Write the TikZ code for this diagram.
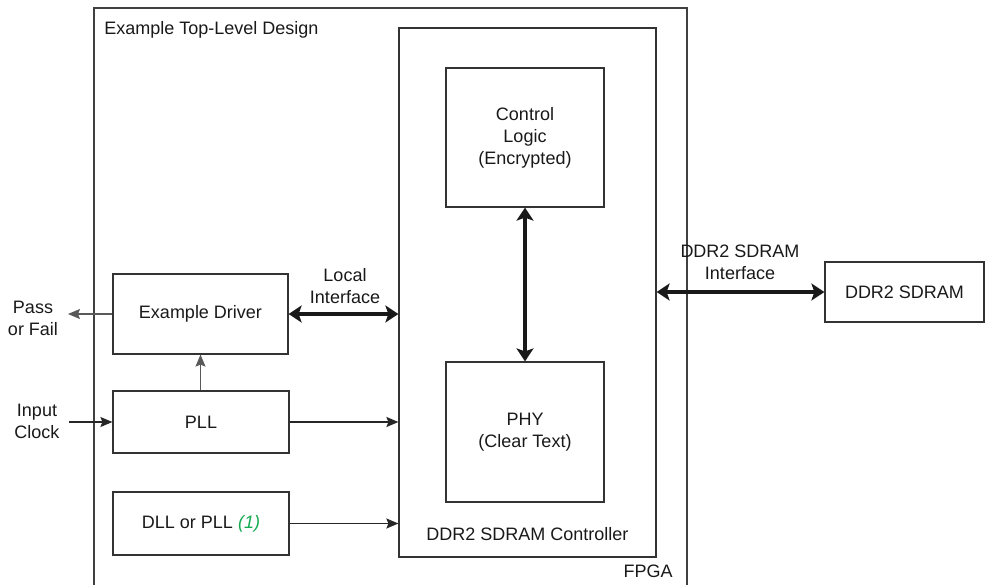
\documentclass[tikz,border=0pt]{standalone}
\usepackage{fontspec}
\setmainfont{Liberation Sans}
\usetikzlibrary{arrows.meta}
\definecolor{notegreen}{RGB}{20,170,80}

\begin{document}
\begin{tikzpicture}[x=0.5pt, y=-0.5pt,
  font=\fontsize{9}{11}\selectfont, text=black!90,
  blk/.style={draw=black!80, line width=0.6pt, align=center, inner sep=0pt},
  lbl/.style={align=center, inner sep=0pt},
  bus/.style={{Stealth[length=6.5pt,width=8.5pt,inset=1.5pt]}-{Stealth[length=6.5pt,width=8.5pt,inset=1.5pt]}, line width=2pt, black!90},
  sig/.style={-{Stealth[length=6pt,width=5pt,inset=1pt]}, line width=0.55pt, black!65},
  sigdark/.style={-{Stealth[length=6pt,width=5pt,inset=1pt]}, line width=0.8pt, black!85}]
\useasboundingbox (0,0) rectangle (985,584);
% FPGA outline, runs off the bottom edge
\coordinate (fpgaBL) at (94,592);
\coordinate (fpgaTL) at (94,8);
\coordinate (fpgaTR) at (687,8);
\coordinate (fpgaBR) at (687,592);
\draw[black!75, line width=0.7pt] (fpgaBL) -- (fpgaTL) -- (fpgaTR) -- (fpgaBR);
\node[lbl, anchor=base west] (topname) at (104,34) {Example Top-Level Design};
\node[lbl, anchor=east] (fpganame) at (673,571) {FPGA};
% controller and its two parts
\node[blk, minimum width=128.5pt, minimum height=264.5pt] (ctrl) at (527.5,292.5) {};
\node[lbl] (ctrlname) at (527.5,534) {DDR2 SDRAM Controller};
\node[blk, minimum width=79pt, minimum height=69.5pt] (logic) at (525,137.5) {Control\\Logic\\(Encrypted)};
\node[blk, minimum width=79pt, minimum height=70pt] (phy) at (525,432) {PHY\\(Clear Text)};
\draw[bus] (logic) -- (phy);
% blocks on the left
\node[blk, minimum width=87.5pt, minimum height=40pt] (driver) at (200.5,314) {Example Driver};
\node[blk, minimum width=88pt, minimum height=31pt] (pll) at (201,422) {PLL};
\node[blk, minimum width=88pt, minimum height=31.5pt] (dll) at (201,523.5) {DLL or PLL \textcolor{notegreen}{\itshape (1)}};
\draw[bus] (driver.east) -- (driver.east -| ctrl.west);
\node[lbl] (localif) at (345,286) {Local\\Interface};
\draw[sig] (pll.north -| driver.south) -- (driver.south);
\draw[sigdark] (pll.east) -- (pll.east -| ctrl.west);
\draw[sigdark] (dll.east) -- (dll.east -| ctrl.west);
% outside pins
\coordinate (passend) at (68,314);
\coordinate (clkin) at (69,422);
\draw[sig] (driver.west) -- (passend);
\node[lbl] (pass) at (33,318) {Pass\\or Fail};
\draw[sig, black!85] (clkin) -- (pll.west);
\node[lbl] (clock) at (37,421) {Input\\Clock};
% memory device
\node[blk, minimum width=79.5pt, minimum height=30pt] (sdram) at (904.5,292) {DDR2 SDRAM};
\draw[bus] (ctrl.east |- sdram.west) -- (sdram.west);
\node[lbl] (memif) at (740,262) {DDR2 SDRAM\\Interface};
\end{tikzpicture}
\end{document}
